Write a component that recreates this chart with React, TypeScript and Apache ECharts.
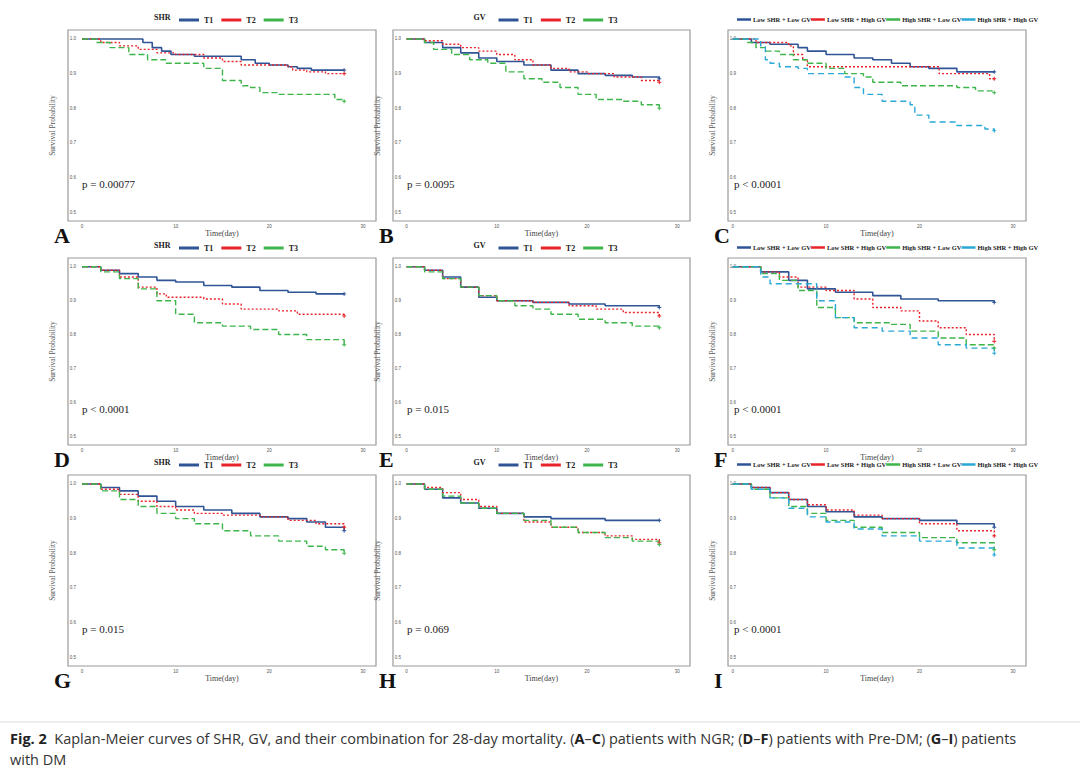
import React, { useEffect, useRef } from "react";
import * as echarts from "echarts";

type P = [number, number][];
const triNames = ["T1", "T2", "T3"];
const comboNames = ["Low SHR + Low GV", "Low SHR + High GV", "High SHR + Low GV", "High SHR + High GV"];
const xTicks = [0, 10, 20, 30];
const yTicks = [0.5, 0.6, 0.7, 0.8, 0.9, 1.0];
const pValues = ["p = 0.00077", "p = 0.0095", "p < 0.0001", "p < 0.0001", "p = 0.015", "p < 0.0001", "p = 0.015", "p = 0.069", "p < 0.0001"];
const letters = ["A", "B", "C", "D", "E", "F", "G", "H", "I"];
const groupTitles = ["SHR", "GV", "", "SHR", "GV", "", "SHR", "GV", ""];

const A_T1: P = [[0,1],[6,1],[6.5,0.99],[7.5,0.975],[8.5,0.965],[9.5,0.955],[12,0.95],[17,0.94],[18.5,0.93],[20,0.925],[22,0.92],[23,0.915],[24.5,0.91],[28,0.91]];
const A_T2: P = [[0,1],[1,1],[2,0.99],[4,0.98],[6,0.97],[8,0.96],[10,0.955],[13,0.945],[15,0.935],[17,0.925],[22,0.92],[22.5,0.91],[24,0.905],[26,0.9],[28,0.9]];
const A_T3: P = [[0,1],[1.5,0.99],[3,0.975],[5,0.955],[7,0.94],[9,0.93],[11,0.93],[13,0.915],[15,0.88],[17,0.865],[18,0.86],[19,0.845],[21,0.84],[25,0.84],[27,0.825],[28,0.82]];
const B_T1: P = [[0,1],[1,1],[2,0.99],[4,0.975],[6,0.96],[8,0.945],[10,0.935],[13,0.925],[16,0.91],[19,0.9],[22,0.895],[25,0.89],[28,0.885]];
const B_T2: P = [[0,1],[2,0.995],[4,0.985],[6,0.975],[8,0.965],[10,0.955],[12,0.94],[14,0.925],[16,0.915],[18,0.905],[20,0.9],[23,0.89],[26,0.88],[28,0.875]];
const B_T3: P = [[0,1],[2,0.99],[3,0.97],[5,0.955],[7,0.94],[9,0.93],[11,0.905],[13,0.885],[15,0.875],[17,0.86],[19,0.84],[21,0.825],[24,0.82],[26,0.81],[28,0.8]];
const C_1: P = [[0,1],[2,0.99],[4,0.985],[7,0.975],[8,0.965],[10,0.955],[13,0.945],[15,0.94],[17,0.93],[19,0.92],[21,0.915],[24,0.905],[28,0.905]];
const C_2: P = [[0,1],[2.5,0.99],[6,0.98],[6.5,0.955],[7.5,0.94],[8,0.92],[22,0.92],[22.1,0.9],[27,0.9],[27.5,0.885],[28,0.885]];
const C_3: P = [[0,1],[1.5,0.99],[2.5,0.975],[3.5,0.965],[5,0.955],[6.5,0.94],[8,0.93],[10,0.915],[12,0.9],[14,0.89],[15,0.875],[18,0.865],[21,0.865],[24,0.86],[26,0.85],[28,0.845]];
const C_4: P = [[0,1],[3,0.98],[3.5,0.94],[4,0.93],[5,0.92],[7,0.915],[8,0.9],[12,0.89],[13,0.86],[14,0.84],[16,0.82],[19,0.81],[19.5,0.78],[21,0.76],[24,0.75],[27,0.74],[28,0.735]];
const D_T1: P = [[0,1],[2,0.99],[4,0.98],[6,0.97],[8,0.96],[10,0.955],[13,0.945],[16,0.94],[19,0.93],[22,0.925],[25,0.92],[28,0.92]];
const D_T2: P = [[0,1],[2,0.99],[4,0.97],[6,0.94],[8,0.92],[9,0.91],[13,0.905],[15,0.89],[17,0.875],[21,0.87],[23,0.86],[28,0.855]];
const D_T3: P = [[0,1],[2,0.985],[4,0.965],[6,0.935],[8,0.9],[10,0.86],[12,0.835],[15,0.825],[18,0.815],[21,0.8],[24,0.785],[28,0.77]];
const E_T1: P = [[0,1],[2,0.99],[4,0.97],[6,0.94],[8,0.91],[10,0.9],[14,0.895],[18,0.89],[22,0.885],[28,0.88]];
const E_T2: P = [[0,1],[2,0.99],[4,0.965],[6,0.94],[8,0.915],[10,0.9],[14,0.895],[18,0.885],[21,0.875],[24,0.865],[28,0.855]];
const E_T3: P = [[0,1],[2,0.985],[4,0.965],[6,0.94],[8,0.915],[10,0.9],[12,0.885],[14,0.875],[16,0.86],[19,0.845],[22,0.835],[25,0.825],[28,0.82]];
const F_1: P = [[0,1],[3,0.985],[6,0.96],[8,0.935],[11,0.925],[15,0.915],[18,0.905],[22,0.9],[28,0.895]];
const F_2: P = [[0,1],[3,0.985],[5,0.97],[7,0.94],[10,0.93],[13,0.905],[15,0.88],[18,0.87],[20,0.84],[22,0.82],[25,0.8],[28,0.78]];
const F_3: P = [[0,1],[3,0.98],[5,0.96],[7,0.93],[9,0.88],[11,0.85],[13,0.835],[17,0.83],[19,0.81],[22,0.79],[25,0.77],[28,0.76]];
const F_4: P = [[0,1],[3,0.97],[4,0.95],[7,0.95],[9,0.9],[11,0.85],[13,0.82],[16,0.81],[19,0.79],[22,0.77],[25,0.76],[28,0.745]];
const G_T1: P = [[0,1],[2,0.99],[4,0.98],[6,0.965],[8,0.95],[10,0.935],[13,0.925],[16,0.915],[19,0.905],[22,0.9],[24,0.89],[26,0.875],[28,0.865]];
const G_T2: P = [[0,1],[2,0.985],[4,0.97],[6,0.95],[8,0.935],[10,0.925],[12,0.915],[15,0.91],[19,0.905],[22,0.895],[25,0.885],[28,0.875]];
const G_T3: P = [[0,1],[2,0.98],[4,0.955],[6,0.935],[8,0.915],[10,0.9],[12,0.885],[15,0.865],[18,0.85],[21,0.835],[24,0.82],[26,0.81],[28,0.8]];
const H_T1: P = [[0,1],[2,0.985],[4,0.96],[6,0.945],[8,0.93],[10,0.915],[13,0.905],[16,0.9],[22,0.895],[28,0.895]];
const H_T2: P = [[0,1],[2,0.99],[4,0.975],[6,0.955],[8,0.935],[10,0.915],[13,0.89],[16,0.875],[19,0.86],[22,0.85],[25,0.84],[28,0.83]];
const H_T3: P = [[0,1],[2,0.985],[4,0.965],[6,0.945],[8,0.93],[10,0.915],[13,0.895],[16,0.875],[19,0.86],[22,0.845],[25,0.835],[28,0.825]];
const I_1: P = [[0,1],[2,0.99],[4,0.975],[6,0.955],[8,0.935],[10,0.92],[13,0.905],[16,0.9],[20,0.895],[24,0.885],[28,0.875]];
const I_2: P = [[0,1],[2,0.99],[4,0.975],[6,0.955],[8,0.94],[10,0.925],[13,0.91],[16,0.9],[20,0.885],[24,0.865],[28,0.85]];
const I_3: P = [[0,1],[2,0.985],[4,0.96],[6,0.935],[8,0.915],[10,0.895],[13,0.875],[16,0.86],[20,0.845],[24,0.83],[28,0.81]];
const I_4: P = [[0,1],[2,0.985],[4,0.96],[6,0.93],[8,0.905],[10,0.89],[13,0.87],[16,0.85],[20,0.835],[24,0.815],[28,0.795]];

const panels: P[][] = [
  [A_T1, A_T2, A_T3], [B_T1, B_T2, B_T3], [C_1, C_2, C_3, C_4],
  [D_T1, D_T2, D_T3], [E_T1, E_T2, E_T3], [F_1, F_2, F_3, F_4],
  [G_T1, G_T2, G_T3], [H_T1, H_T2, H_T3], [I_1, I_2, I_3, I_4],
];

const COLORS = ["#2F5597", "#E8242A", "#3DB54A", "#2AA9D6"];
const TYPES: any[] = ["solid", [2, 2], [6, 3], [6, 4]];

const colBox = [[68, 376], [393, 690], [728, 1026]];
const rowBox = [[30, 221], [258, 445], [475, 666]];

export default function App() {
  const ref = useRef<HTMLDivElement>(null);
  useEffect(() => {
    const chart = echarts.init(ref.current!, null, { renderer: "svg" });
    const grid: any[] = [], xAxis: any[] = [], yAxis: any[] = [], series: any[] = [], legend: any[] = [], graphic: any[] = [];
    panels.forEach((curves, i) => {
      const c = i % 3, r = Math.floor(i / 3);
      const [l, rr] = colBox[c];
      const [t, b] = rowBox[r];
      grid.push({ left: l, top: t, width: rr - l, height: b - t, show: true, borderColor: "#999", borderWidth: 1.2, backgroundColor: "#fff" });
      const xmin = c === 2 ? -0.5 : -1.5;
      xAxis.push({
        gridIndex: i, type: "value", min: xmin, max: 31.4,
        name: "Time(day)", nameLocation: "middle", nameGap: 7,
        nameTextStyle: { fontFamily: "Liberation Serif", fontSize: 8, color: "#444" },
        axisLine: { show: false }, axisTick: { show: false }, splitLine: { show: false },
        axisLabel: { customValues: xTicks, fontSize: 4.5, color: "#555", margin: 3 },
      });
      yAxis.push({
        gridIndex: i, type: "value", min: 0.474, max: 1.026,
        name: "Survival Probability", nameLocation: "middle", nameGap: 12, nameRotate: 90,
        nameTextStyle: { fontFamily: "Liberation Serif", fontSize: 7.5, color: "#555" },
        axisLine: { show: false }, axisTick: { show: false }, splitLine: { show: false },
        axisLabel: { customValues: yTicks, fontSize: 4.5, color: "#555", margin: -8, formatter: (v: number) => v.toFixed(1) },
      });
      const names = curves.length === 3 ? triNames : comboNames;
      curves.forEach((d, k) => {
        series.push({
          type: "line", name: names[k], xAxisIndex: i, yAxisIndex: i, data: d, step: "end",
          showSymbol: false, symbol: "none", silent: true,
          lineStyle: { color: COLORS[k], width: k === 0 ? 1.6 : 1.4, type: TYPES[k] },
          itemStyle: { color: COLORS[k] },
          markPoint: { symbol: "path://M0,-1L0,1M-1,0L1,0", symbolSize: 4, silent: true, label: { show: false },
            itemStyle: { borderColor: COLORS[k], borderWidth: 1, color: COLORS[k] }, data: [{ coord: d[d.length - 1] }] },
        });
      });
      const legTop = t - 19;
      if (curves.length === 3) {
        const cx = (l + rr) / 2;
        graphic.push({ type: "text", left: cx - 68, top: legTop + 2, style: { text: groupTitles[i], font: "bold 8px 'Liberation Serif'", fill: "#222" } });
        legend.push({ left: cx - 48, top: legTop, data: names, icon: "rect", itemWidth: 20, itemHeight: 3, itemGap: 8,
          textStyle: { fontFamily: "Liberation Serif", fontWeight: "bold", fontSize: 8, color: "#222" }, selectedMode: false });
      } else {
        legend.push({ left: l + 4, top: legTop, data: names, icon: "rect", itemWidth: 14, itemHeight: 2.5, itemGap: 0,
          textStyle: { fontFamily: "Liberation Serif", fontWeight: "bold", fontSize: 6.5, color: "#222", padding: [0, 0, 0, -3] }, selectedMode: false });
      }
      graphic.push({ type: "text", left: l + (c === 2 ? 6 : 14), top: t + (b - t) * 0.78, style: { text: pValues[i], font: "11px 'Liberation Serif'", fill: "#222" } });
      graphic.push({ type: "text", left: l - 14, top: b + 3, style: { text: letters[i], font: "bold 22px 'Liberation Serif'", fill: "#111" } });
    });
    graphic.push({ type: "line", shape: { x1: 0, y1: 722, x2: 1080, y2: 722 }, style: { stroke: "#ddd", lineWidth: 1 } });
    graphic.push({
      type: "text", left: 10, top: 728,
      style: {
        text: "{b|Fig. 2}  Kaplan-Meier curves of SHR, GV, and their combination for 28-day mortality. ({b|A}–{b|C}) patients with NGR; ({b|D}–{b|F}) patients with Pre-DM; ({b|G}–{b|I}) patients\nwith DM",
        font: "14.5px 'Open Sans'", fill: "#333", lineHeight: 21,
        rich: { b: { fontWeight: "bold", fontSize: 14.5, fontFamily: "Open Sans", fill: "#222" } },
      },
    });
    chart.setOption({ animation: false, backgroundColor: "#fff", grid, xAxis, yAxis, series, legend, graphic });
    return () => chart.dispose();
  }, []);
  return <div ref={ref} style={{ position: "fixed", left: 0, top: 0, width: 1080, height: 771 }} />;
}
